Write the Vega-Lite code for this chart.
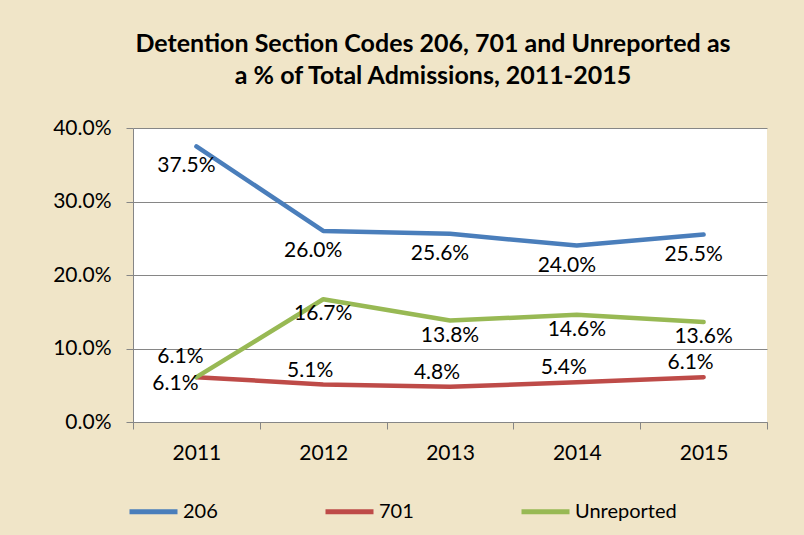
{
  "$schema": "https://vega.github.io/schema/vega-lite/v6.json",
  "width": 634,
  "height": 294,
  "autosize": {"type": "none"},
  "padding": {"left": 133, "top": 128, "right": 37, "bottom": 113},
  "background": "#F0E5C8",
  "title": {
    "text": ["Detention Section Codes 206, 701 and Unreported as", "a % of Total Admissions, 2011-2015"],
    "font": "Lato",
    "fontSize": 25,
    "fontWeight": "bold",
    "color": "#000000",
    "lineHeight": 32,
    "anchor": "middle",
    "dx": -17,
    "offset": 28
  },
  "data": {
    "values": [
      {"year": "2011", "series": "206", "value": 0.375},
      {"year": "2012", "series": "206", "value": 0.260},
      {"year": "2013", "series": "206", "value": 0.256},
      {"year": "2014", "series": "206", "value": 0.240},
      {"year": "2015", "series": "206", "value": 0.255},
      {"year": "2011", "series": "701", "value": 0.061},
      {"year": "2012", "series": "701", "value": 0.051},
      {"year": "2013", "series": "701", "value": 0.048},
      {"year": "2014", "series": "701", "value": 0.054},
      {"year": "2015", "series": "701", "value": 0.061},
      {"year": "2011", "series": "Unreported", "value": 0.061},
      {"year": "2012", "series": "Unreported", "value": 0.167},
      {"year": "2013", "series": "Unreported", "value": 0.138},
      {"year": "2014", "series": "Unreported", "value": 0.146},
      {"year": "2015", "series": "Unreported", "value": 0.136}
    ]
  },
  "encoding": {
    "x": {
      "field": "year",
      "type": "nominal",
      "bandPosition": 0.5,
      "scale": {"type": "band", "paddingInner": 0, "paddingOuter": 0},
      "axis": {
        "title": null,
        "labelAngle": 0,
        "tickBand": "extent",
        "domainColor": "#868686",
        "tickColor": "#868686",
        "tickSize": 7,
        "labelFont": "Lato",
        "labelFontSize": 21,
        "labelColor": "#000000",
        "labelPadding": 13,
        "grid": false
      }
    },
    "y": {
      "field": "value",
      "type": "quantitative",
      "scale": {"domain": [0, 0.4], "nice": false},
      "axis": {
        "title": null,
        "format": ".1%",
        "values": [0, 0.1, 0.2, 0.3, 0.4],
        "gridColor": "#868686",
        "domainColor": "#868686",
        "tickColor": "#868686",
        "tickSize": 7,
        "labelFont": "Lato",
        "labelFontSize": 21,
        "labelColor": "#000000",
        "labelPadding": 15
      }
    }
  },
  "layer": [
    {
      "mark": {"type": "line", "strokeWidth": 4.5, "strokeCap": "round", "strokeJoin": "round"},
      "encoding": {
        "color": {
          "field": "series",
          "type": "nominal",
          "scale": {"domain": ["206", "701", "Unreported"], "range": ["#4A7EBB", "#BE4B48", "#98B954"]},
          "legend": {
            "title": null,
            "orient": "none",
            "legendX": -6,
            "legendY": 357,
            "direction": "horizontal",
            "symbolType": "stroke",
            "symbolSize": 2304,
            "symbolStrokeWidth": 5,
            "labelFont": "Lato",
            "labelFontSize": 20,
            "labelColor": "#000000",
            "labelOffset": 3,
            "columnPadding": 97
          }
        }
      }
    },
    {
      "transform": [{"filter": "datum.series == '206'"}],
      "mark": {"type": "text", "font": "Lato", "fontSize": 21, "color": "#000000", "dx": -10, "dy": 20},
      "encoding": {"text": {"field": "value", "format": ".1%"}}
    },
    {
      "transform": [{"filter": "datum.series == 'Unreported' && datum.year != '2011'"}],
      "mark": {"type": "text", "font": "Lato", "fontSize": 21, "color": "#000000", "dx": 0, "dy": 15},
      "encoding": {"text": {"field": "value", "format": ".1%"}}
    },
    {
      "transform": [{"filter": "datum.series == 'Unreported' && datum.year == '2011'"}],
      "mark": {"type": "text", "font": "Lato", "fontSize": 21, "color": "#000000", "dx": -16, "dy": -20},
      "encoding": {"text": {"field": "value", "format": ".1%"}}
    },
    {
      "transform": [{"filter": "datum.series == '701' && datum.year == '2011'"}],
      "mark": {"type": "text", "font": "Lato", "fontSize": 21, "color": "#000000", "dx": -21, "dy": 7},
      "encoding": {"text": {"field": "value", "format": ".1%"}}
    },
    {
      "transform": [{"filter": "datum.series == '701' && datum.year != '2011'"}],
      "mark": {"type": "text", "font": "Lato", "fontSize": 21, "color": "#000000", "dx": -13, "dy": -14},
      "encoding": {"text": {"field": "value", "format": ".1%"}}
    }
  ],
  "config": {
    "view": {"fill": "#FFFFFF", "stroke": null}
  }
}
